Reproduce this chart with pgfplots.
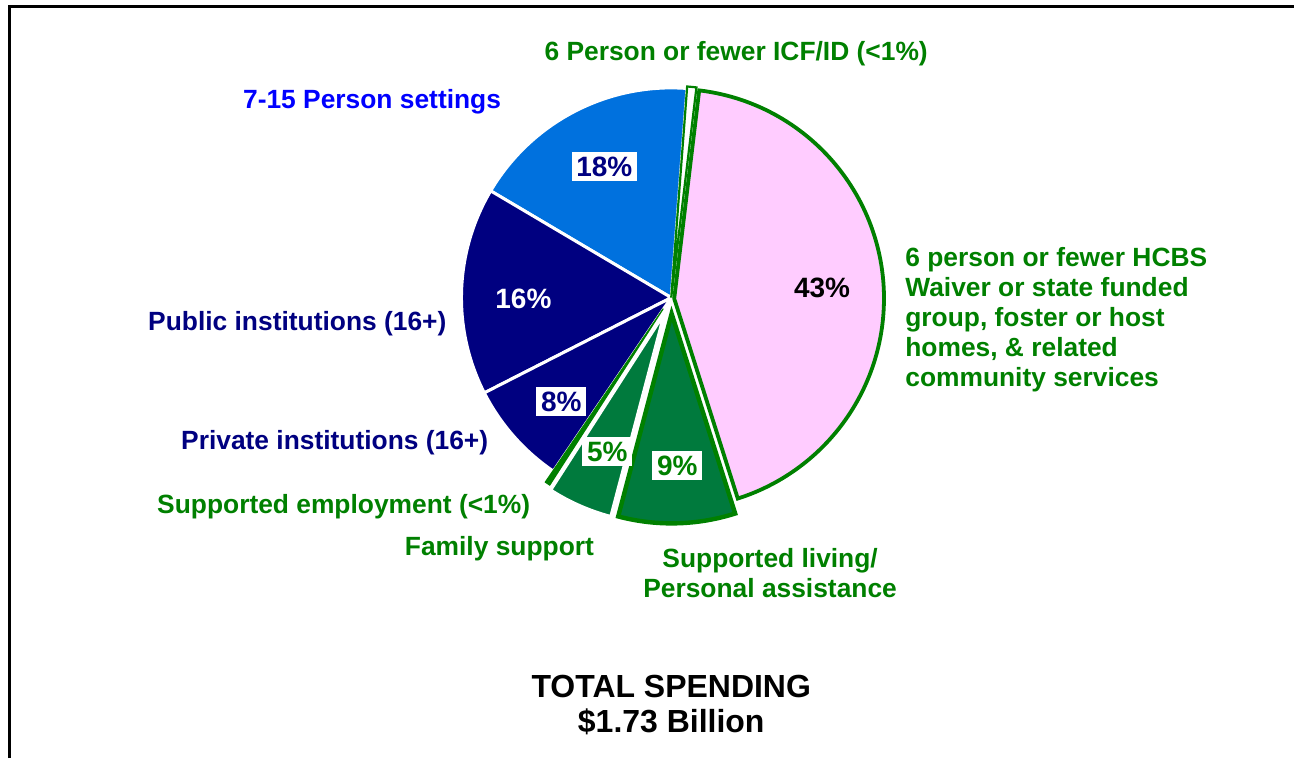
\documentclass[border=0pt]{standalone}
\usepackage{pgfplots}
\pgfplotsset{compat=1.18}
\usepackage{fontspec}
\setmainfont{Liberation Sans}

\definecolor{sliceblue}{RGB}{0,113,222}
\definecolor{slicenavy}{RGB}{0,0,128}
\definecolor{slicepink}{RGB}{255,204,255}
\definecolor{slicegreen}{RGB}{0,122,61}
\definecolor{linegreen}{RGB}{0,128,0}
\definecolor{labelblue}{RGB}{0,0,255}

% shares of total spending (%), clockwise from 149.4 deg
% 7-15 settings 17.7, ICF/ID 0.7, HCBS 43.2, supported living 9,
% family support 5, supported employment 0.4, private 8, public 16

\begin{document}
\begin{tikzpicture}
\begin{axis}[
    x=0.5pt, y=0.5pt,
    xmin=0, xmax=1295, ymin=0, ymax=759,
    hide axis, clip=false,
]
\path (axis cs:0,0) rectangle (axis cs:1295,759);
\draw[line width=1.5pt] (axis cs:9.5,0) -- (axis cs:9.5,752) -- (axis cs:1295,752);

% slices, radius 210px = 105pt
\fill[sliceblue, draw=white, line width=1.5pt]
  (axis cs:672,461) -- ++(149.4:105pt) arc[start angle=149.4, delta angle=-3.6*17.7, radius=105pt] -- cycle;
\fill[slicenavy, draw=white, line width=1.5pt]
  (axis cs:672,461) -- ++(-153.0:105pt) arc[start angle=-153.0, delta angle=-3.6*16, radius=105pt] -- cycle;
\fill[slicenavy, draw=white, line width=1.5pt]
  (axis cs:672,461) -- ++(-124.2:105pt) arc[start angle=-124.2, delta angle=-3.6*8, radius=105pt] -- cycle;
\filldraw[fill=white, draw=linegreen, line width=1.1pt, line join=miter]
  (axis cs:672,461) -- ++(85.68:106pt) arc[start angle=85.68, delta angle=-3.6*0.7, radius=106pt] -- cycle;
\filldraw[fill=slicepink, draw=linegreen, line width=1.9pt]
  (axis cs:675,460) -- ++(83.16:105pt) arc[start angle=83.16, delta angle=-3.6*43.2, radius=105pt] -- cycle;
\filldraw[fill=slicegreen, draw=linegreen, line width=2.2pt]
  (axis cs:672.4,445) -- ++(-72.36:105pt) arc[start angle=-72.36, delta angle=-3.6*9, radius=105pt] -- cycle;
\filldraw[fill=slicegreen, draw=white, line width=1.5pt]
  (axis cs:665,445) -- ++(-104.76:105pt) arc[start angle=-104.76, delta angle=-3.6*5, radius=105pt] -- cycle;
\filldraw[fill=linegreen, draw=linegreen, line width=0.6pt]
  (axis cs:664,450) -- ++(-122.76:105pt) arc[start angle=-122.76, delta angle=-3.6*0.4, radius=105pt] -- cycle;

% percentages on the slices
\begin{scope}[font=\fontsize{13.2}{15}\selectfont\bfseries]
\begin{scope}[font=\fontsize{14}{15}\selectfont\bfseries]
\node[fill=white, text=slicenavy, inner sep=2.4pt] at (axis cs:605,592) {18\%};
\node[text=white, inner sep=0pt] at (axis cs:524,460) {16\%};
\node[fill=white, text=slicenavy, inner sep=2.4pt] at (axis cs:562,357) {8\%};
\node[fill=white, text=linegreen, inner sep=2.4pt] at (axis cs:608,307) {5\%};
\node[fill=white, text=linegreen, inner sep=2.4pt] at (axis cs:678,293) {9\%};
\node[text=black, inner sep=0pt] at (axis cs:823,471) {43\%};
\end{scope}

% category labels
\node[text=linegreen, inner sep=0pt] at (axis cs:737,705) {6 Person or fewer ICF/ID (<1\%)};
\node[text=labelblue, anchor=west, inner sep=0pt] at (axis cs:243,657) {7-15 Person settings};
\node[text=slicenavy, anchor=west, inner sep=0pt] at (axis cs:148,435) {Public institutions (16+)};
\node[text=slicenavy, anchor=west, inner sep=0pt] at (axis cs:181,316) {Private institutions (16+)};
\node[text=linegreen, anchor=west, inner sep=0pt] at (axis cs:157,252) {Supported employment (<1\%)};
\node[text=linegreen, anchor=west, inner sep=0pt] at (axis cs:405,210) {Family support};
\node[text=linegreen, align=center, inner sep=0pt] at (axis cs:771,185) {Supported living/\\Personal assistance};
\node[text=linegreen, align=left, anchor=west, inner sep=0pt] at (axis cs:906,439)
  {6 person or fewer HCBS\\Waiver or state funded\\group, foster or host\\homes, \& related\\community services};
\end{scope}

\node[font=\fontsize{16}{17.5}\selectfont\bfseries, align=center, inner sep=0pt] at (axis cs:672,53)
  {TOTAL SPENDING\\\$1.73 Billion};
\end{axis}
\end{tikzpicture}
\end{document}
